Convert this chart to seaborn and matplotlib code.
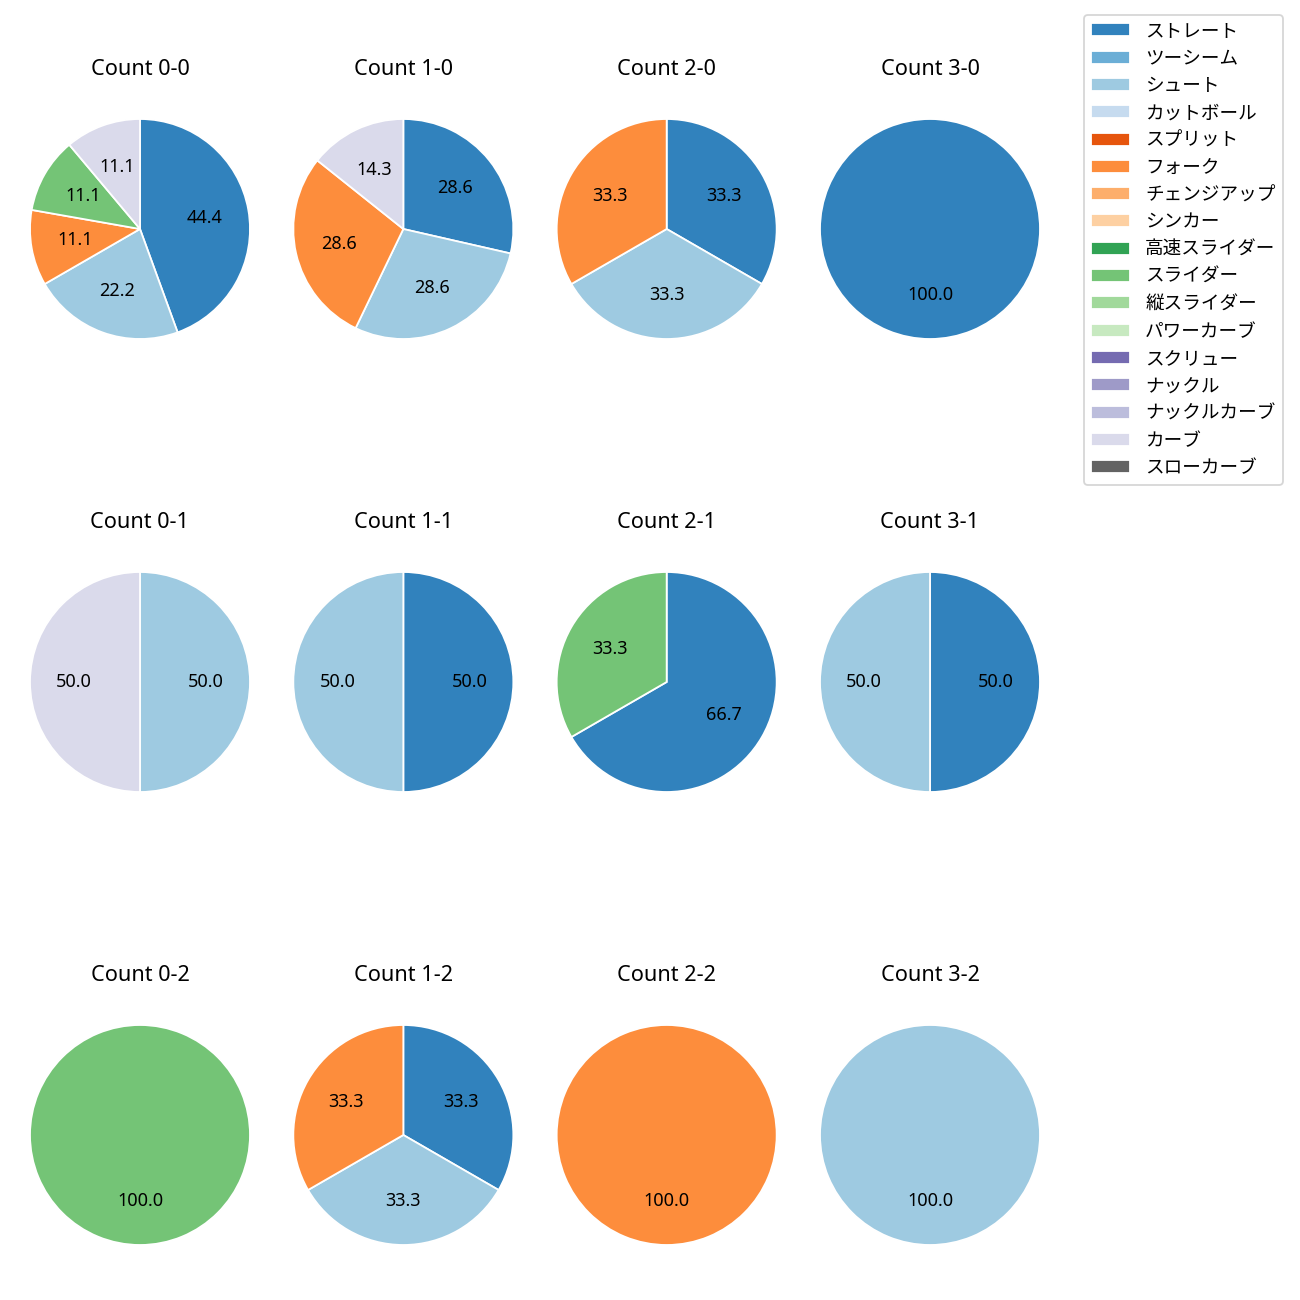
import matplotlib
matplotlib.use("Agg")
import matplotlib.pyplot as plt
from matplotlib.patches import Patch
import seaborn as sns

sns.set_style("white")
plt.rcParams['font.family'] = ['Noto Sans', 'Noto Sans CJK JP', 'DejaVu Sans']
plt.rcParams['text.color'] = 'black'

pitch_types = ["ストレート", "ツーシーム", "シュート", "カットボール", "スプリット", "フォーク",
               "チェンジアップ", "シンカー", "高速スライダー", "スライダー", "縦スライダー",
               "パワーカーブ", "スクリュー", "ナックル", "ナックルカーブ", "カーブ", "スローカーブ"]

count_labels = ["Count 0-0", "Count 1-0", "Count 2-0", "Count 3-0",
                "Count 0-1", "Count 1-1", "Count 2-1", "Count 3-1",
                "Count 0-2", "Count 1-2", "Count 2-2", "Count 3-2"]

# pitch counts per ball-strike count, in pitch_types order
c00 = [4, 0, 2, 0, 0, 1, 0, 0, 0, 1, 0, 0, 0, 0, 0, 1, 0]
c10 = [2, 0, 2, 0, 0, 2, 0, 0, 0, 0, 0, 0, 0, 0, 0, 1, 0]
c20 = [1, 0, 1, 0, 0, 1, 0, 0, 0, 0, 0, 0, 0, 0, 0, 0, 0]
c30 = [1, 0, 0, 0, 0, 0, 0, 0, 0, 0, 0, 0, 0, 0, 0, 0, 0]
c01 = [0, 0, 1, 0, 0, 0, 0, 0, 0, 0, 0, 0, 0, 0, 0, 1, 0]
c11 = [1, 0, 1, 0, 0, 0, 0, 0, 0, 0, 0, 0, 0, 0, 0, 0, 0]
c21 = [2, 0, 0, 0, 0, 0, 0, 0, 0, 1, 0, 0, 0, 0, 0, 0, 0]
c31 = [1, 0, 1, 0, 0, 0, 0, 0, 0, 0, 0, 0, 0, 0, 0, 0, 0]
c02 = [0, 0, 0, 0, 0, 0, 0, 0, 0, 1, 0, 0, 0, 0, 0, 0, 0]
c12 = [1, 0, 1, 0, 0, 1, 0, 0, 0, 0, 0, 0, 0, 0, 0, 0, 0]
c22 = [0, 0, 0, 0, 0, 1, 0, 0, 0, 0, 0, 0, 0, 0, 0, 0, 0]
c32 = [0, 0, 1, 0, 0, 0, 0, 0, 0, 0, 0, 0, 0, 0, 0, 0, 0]

all_counts = [c00, c10, c20, c30, c01, c11, c21, c31, c02, c12, c22, c32]

colors = sns.color_palette("tab20c", 20)[:len(pitch_types)]

fig, axes = plt.subplots(3, 4, figsize=(10, 10), dpi=130)
fig.subplots_adjust(left=0.01538, right=0.8077, top=0.91615, bottom=0.03462,
                    wspace=0.0972, hspace=0.8875)

lim = 120 / 110
for ax, title, vals in zip(axes.flat, count_labels, all_counts):
    v = [x for x in vals if x > 0]
    c = [colors[i] for i, x in enumerate(vals) if x > 0]
    ax.pie(v, colors=c, startangle=90, counterclock=False,
           autopct='%.1f', pctdistance=0.6,
           textprops={'fontsize': 10, 'color': 'black'})
    ax.set_xlim(-lim, lim)
    ax.set_ylim(-lim, lim)
    ax.set_aspect('equal')
    ax.set_title(title, fontsize=12, pad=19, color='black')

handles = [Patch(facecolor=colors[i], label=p) for i, p in enumerate(pitch_types)]
fig.legend(handles=handles, loc='upper right', bbox_to_anchor=(0.9869, 0.9885),
           borderaxespad=0, fontsize=10.3, handlelength=2.1, frameon=True,
           labelcolor='black')

fig.savefig("out.png", dpi=130)
